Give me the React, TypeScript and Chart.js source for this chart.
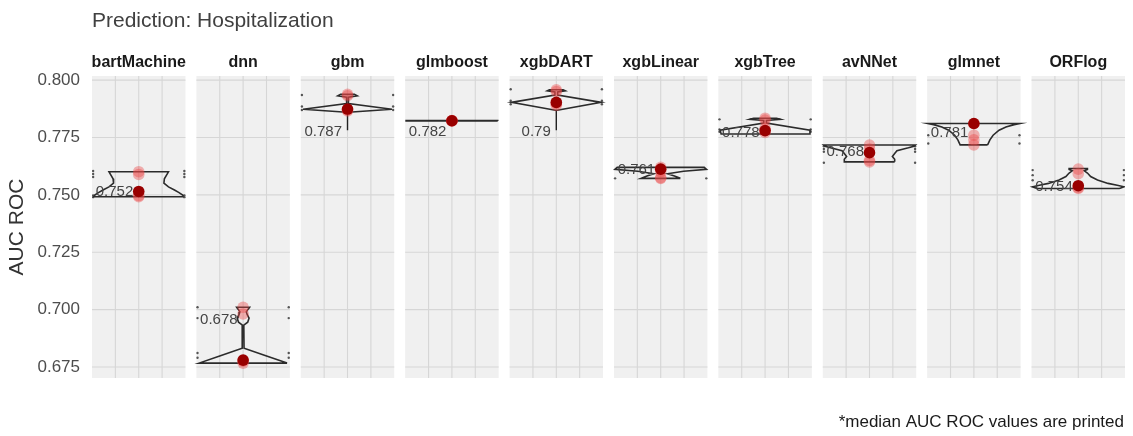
import React, { useEffect, useRef } from 'react';
import { Chart, registerables } from 'chart.js';
Chart.register(...registerables);

const FONT = '"Liberation Sans", Arial, Helvetica, sans-serif';

const models = ['bartMachine', 'dnn', 'gbm', 'glmboost', 'xgbDART', 'xgbLinear', 'xgbTree', 'avNNet', 'glmnet', 'ORFlog'];
const medianValues = [0.7515, 0.678, 0.7874, 0.7823, 0.7903, 0.7612, 0.778, 0.7684, 0.7811, 0.754];
const medianLabels = ['0.752', '0.678', '0.787', '0.782', '0.79', '0.761', '0.778', '0.768', '0.781', '0.754'];
const labelValues = [0.7513, 0.6955, 0.7774, 0.7774, 0.7774, 0.7608, 0.7771, 0.7688, 0.7769, 0.7535];
const otherValues = [
  [0.7601, 0.7589, 0.7497, 0.7492],
  [0.701, 0.6981, 0.6775, 0.6767],
  [0.7938, 0.7932, 0.787, 0.7866],
  [0.7822, 0.7823, 0.7824, 0.7823],
  [0.7958, 0.795, 0.7897, 0.789],
  [0.762, 0.76, 0.7575, 0.7572],
  [0.7834, 0.7826, 0.779, 0.7772],
  [0.7717, 0.77, 0.765, 0.7644],
  [0.781, 0.776, 0.774, 0.7718],
  [0.7612, 0.7592, 0.7532, 0.7528],
];
const segmentTops = [null, null, 0.7862, null, 0.7867, null, null, null, null, null];
const segmentBottoms = [null, null, 0.7782, null, 0.7782, null, null, null, null, null];
const edgeDots = [
  [0.7604, 0.7591, 0.7578, 0.7497, 0.749],
  [0.701, 0.6963, 0.6811, 0.679],
  [0.7935, 0.7885, 0.787],
  [],
  [0.796, 0.791, 0.7895],
  [0.7572],
  [0.7829, 0.7785, 0.7775],
  [0.7712, 0.77, 0.7688, 0.764],
  [0.776, 0.7724],
  [0.7608, 0.7586, 0.7564],
];
// violin outlines: [AUC value, relative half width]
const violinBartMachine = [[0.7492, 0.98], [0.7499, 0.96], [0.751, 0.88], [0.7521, 0.78], [0.7535, 0.65], [0.7551, 0.55], [0.757, 0.56], [0.759, 0.62], [0.7601, 0.65]];
const violinDnn = [[0.6767, 0.96], [0.68, 0.48], [0.6832, 0.02], [0.6932, 0.015], [0.6945, 0.1], [0.6963, 0.13], [0.6978, 0.09], [0.699, 0.07], [0.7002, 0.11], [0.701, 0.14]];
const violinGbm = [[0.786, 0.02], [0.7873, 0.97], [0.7898, 0.02], [0.7926, 0.02], [0.7932, 0.21], [0.7938, 0.15]];
const violinGlmboost = [[0.7822, 1.0], [0.7824, 1.0]];
const violinXgbDART = [[0.7869, 0.02], [0.7903, 0.98], [0.7935, 0.03], [0.7948, 0.03], [0.7953, 0.2], [0.7958, 0.15]];
const violinXgbLinear = [[0.7572, 0.43], [0.7582, 0.3], [0.7592, 0.15], [0.7603, 0.5], [0.7611, 1.0], [0.762, 0.95]];
const violinXgbTree = [[0.7765, 0.96], [0.7782, 0.98], [0.7813, 0.03], [0.7824, 0.03], [0.7829, 0.34], [0.7834, 0.25]];
const violinAvNNet = [[0.7644, 0.55], [0.7655, 0.55], [0.7667, 0.5], [0.768, 0.55], [0.7692, 0.6], [0.7705, 0.85], [0.7712, 0.97], [0.7717, 1.0]];
const violinGlmnet = [[0.7718, 0.3], [0.774, 0.35], [0.776, 0.42], [0.7782, 0.55], [0.7796, 0.7], [0.7806, 0.88], [0.7811, 1.0]];
const violinORFlog = [[0.7528, 0.9], [0.7535, 1.0], [0.7542, 0.85], [0.755, 0.65], [0.7565, 0.42], [0.758, 0.27], [0.7595, 0.2], [0.7605, 0.13], [0.7611, 0.2], [0.7615, 0.2]];
const violinProfiles = [violinBartMachine, violinDnn, violinGbm, violinGlmboost, violinXgbDART, violinXgbLinear, violinXgbTree, violinAvNNet, violinGlmnet, violinORFlog];

const yTicks = [0.675, 0.7, 0.725, 0.75, 0.775, 0.8];
const Y_MIN = 0.6702;
const Y_MAX = 0.8018;
const GAP = 0.117;
const PITCH = 1 + GAP;
const HALF = 0.49;

const PANEL_BG = '#f0f0f0';
const GRID = '#d6d6d6';

function buildDatasets() {
  const ds: any[] = [];
  models.forEach((_, i) => {
    const c = i * PITCH + 0.5;
    const prof = violinProfiles[i];
    const pts = [
      ...prof.map(([v, f]) => ({ x: c + f * HALF, y: v })),
      ...prof.slice().reverse().map(([v, f]) => ({ x: c - f * HALF, y: v })),
    ];
    pts.push(pts[0]);
    ds.push({ data: pts, showLine: true, pointRadius: 0, borderColor: '#2b2b2b', borderWidth: 1.6, fill: false, order: 3 });
    if (segmentTops[i] !== null) {
      ds.push({ data: [{ x: c, y: segmentTops[i] }, { x: c, y: segmentBottoms[i] }], showLine: true, pointRadius: 0, borderColor: '#222222', borderWidth: 1.4, order: 3 });
    }
  });
  const edge: any[] = [];
  models.forEach((_, i) => {
    edgeDots[i].forEach((v) => {
      edge.push({ x: i * PITCH + 0.012, y: v });
      edge.push({ x: i * PITCH + 1 - 0.012, y: v });
    });
  });
  ds.push({ data: edge, pointRadius: 1.2, pointBackgroundColor: '#555555', pointBorderWidth: 0, order: 4 });
  const pink: any[] = [];
  models.forEach((_, i) => otherValues[i].forEach((v) => pink.push({ x: i * PITCH + 0.5, y: v })));
  ds.push({ data: pink, pointRadius: 5.8, pointBackgroundColor: 'rgba(235,70,70,0.4)', pointBorderWidth: 0, order: 2 });
  ds.push({
    data: medianValues.map((v, i) => ({ x: i * PITCH + 0.5, y: v })),
    pointRadius: 5.8, pointBackgroundColor: '#990000', pointBorderWidth: 0, order: 1,
  });
  return ds;
}

const panelPlugin = {
  id: 'panels',
  beforeDatasetsDraw(chart: any) {
    const { ctx, chartArea, scales } = chart;
    const x = scales.x, y = scales.y;
    ctx.save();
    models.forEach((_, i) => {
      const l = x.getPixelForValue(i * PITCH);
      const r = x.getPixelForValue(i * PITCH + 1);
      ctx.fillStyle = PANEL_BG;
      ctx.fillRect(l, chartArea.top, r - l, chartArea.bottom - chartArea.top);
      ctx.strokeStyle = GRID;
      ctx.lineWidth = 1.1;
      ctx.beginPath();
      yTicks.forEach((t) => {
        const py = y.getPixelForValue(t);
        ctx.moveTo(l, py);
        ctx.lineTo(r, py);
      });
      [0.25, 0.5, 0.75].forEach((f) => {
        const px = x.getPixelForValue(i * PITCH + f);
        ctx.moveTo(px, chartArea.top);
        ctx.lineTo(px, chartArea.bottom);
      });
      ctx.stroke();
    });
    ctx.restore();
  },
  afterDatasetsDraw(chart: any) {
    const { ctx, chartArea, scales } = chart;
    const x = scales.x, y = scales.y;
    ctx.save();
    ctx.font = `15px ${FONT}`;
    ctx.fillStyle = '#444444';
    ctx.textAlign = 'right';
    ctx.textBaseline = 'middle';
    models.forEach((_, i) => {
      const cx = x.getPixelForValue(i * PITCH + 0.5);
      ctx.fillText(medianLabels[i], cx - 5.5, y.getPixelForValue(labelValues[i]));
    });
    ctx.font = `bold 16px ${FONT}`;
    ctx.fillStyle = '#1a1a1a';
    ctx.textAlign = 'center';
    ctx.textBaseline = 'alphabetic';
    models.forEach((m, i) => {
      ctx.fillText(m, x.getPixelForValue(i * PITCH + 0.5), 66.5);
    });
    ctx.font = `21px ${FONT}`;
    ctx.fillStyle = '#404040';
    ctx.textAlign = 'left';
    ctx.fillText('Prediction: Hospitalization', chartArea.left, 27);
    ctx.font = `17px ${FONT}`;
    ctx.fillStyle = '#1a1a1a';
    ctx.textAlign = 'right';
    ctx.fillText('*median AUC ROC values are printed', chartArea.right - 1, 427);
    ctx.restore();
  },
};

export default function App() {
  const ref = useRef<HTMLCanvasElement>(null);
  useEffect(() => {
    document.body.style.margin = '0';
    Chart.defaults.font.family = FONT;
    const chart = new Chart(ref.current as HTMLCanvasElement, {
      type: 'scatter',
      data: { datasets: buildDatasets() },
      options: {
        animation: false,
        responsive: false,
        events: [],
        layout: { padding: { top: 76, right: 8, bottom: 58, left: 0 } },
        plugins: { legend: { display: false }, tooltip: { enabled: false } },
        scales: {
          x: { type: 'linear', min: 0, max: 10 + 9 * GAP, display: false },
          y: {
            type: 'linear',
            min: Y_MIN,
            max: Y_MAX,
            afterBuildTicks: (s: any) => { s.ticks = yTicks.map((v) => ({ value: v })); },
            afterFit: (s: any) => { s.width = 92; },
            ticks: { callback: (v: any) => Number(v).toFixed(3), font: { size: 17 }, color: '#4d4d4d', padding: 12 },
            grid: { display: false, drawTicks: false },
            border: { display: false },
            title: { display: true, text: 'AUC ROC', font: { size: 21 }, color: '#333333', padding: { top: 5, bottom: 0 } },
          },
        },
      } as any,
      plugins: [panelPlugin],
    });
    return () => chart.destroy();
  }, []);
  return (
    <div style={{ width: 1133, height: 436 }}>
      <canvas ref={ref} width={1133} height={436} style={{ display: 'block' }} />
    </div>
  );
}
